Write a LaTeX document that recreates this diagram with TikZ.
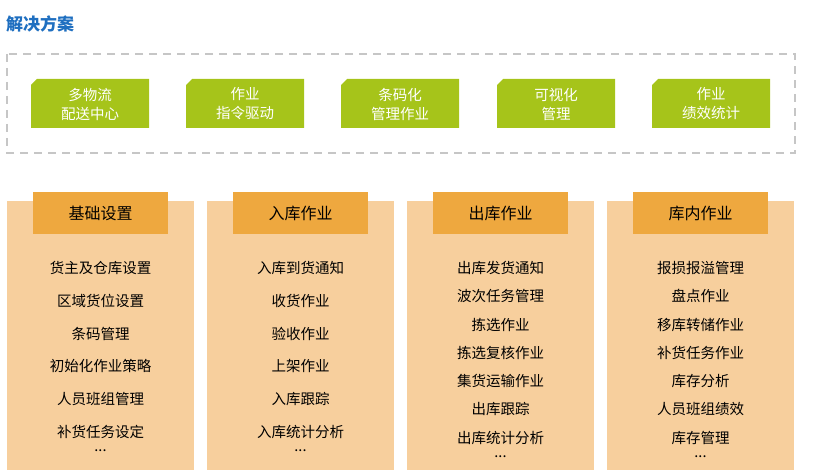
\documentclass[tikz,border=0pt]{standalone}
\usepackage{fontspec}
\newfontfamily\cjk{Noto Sans CJK SC}
\definecolor{gr}{HTML}{A6C41A}
\definecolor{hd}{HTML}{EEA83F}
\definecolor{pn}{HTML}{F7CF9D}
\definecolor{tb}{HTML}{1F6FC0}
\begin{document}
\begin{tikzpicture}[x=1pt,y=-1pt,
  item/.style={font=\cjk\fontsize{14.5}{16}\selectfont,text=black,inner sep=0},
  gtext/.style={font=\cjk\fontsize{14.5}{19}\selectfont,text=white,align=center,inner sep=0},
  htext/.style={font=\cjk\fontsize{16}{18}\selectfont,text=black,inner sep=0}]
\useasboundingbox (0,0) rectangle (828,476);
\node[font=\cjk\bfseries\fontsize{17}{20}\selectfont,text=tb,anchor=west,inner sep=0] (title) at (6,24) {解决方案};
\draw[gray!45,line width=1.6pt,dash pattern=on 8pt off 6pt] (7,54) rectangle (795,153);
\foreach \x/\t [count=\i] in {31/{多物流\\配送中心},186/{作业\\指令驱动},341/{条码化\\管理作业},497/{可视化\\管理},652/{作业\\绩效统计}}{
  \fill[gr] (\x+6,79) -- (\x+118,79) -- (\x+118,128) -- (\x,128) -- (\x,85) -- cycle;
  \node[gtext] (g\i) at (\x+59,104) {\t};
}
\foreach \x/\h [count=\i] in {7/基础设置,207/入库作业,407/出库作业,607/库内作业}{
  \fill[pn] (\x,201) rectangle (\x+187,470);
  \fill[hd] (\x+26,192) rectangle (\x+161,234);
  \node[htext] (h\i) at (\x+93.5,213) {\h};
}
\foreach \t [count=\j] in {货主及仓库设置,区域货位设置,条码管理,初始化作业策略,人员班组管理,补货任务设定}
  \node[item] (a\j) at (100.5,268+32.8*\j-32.8) {\t};
\node[item] (a7) at (100.5,451) {...};
\foreach \t [count=\j] in {入库到货通知,收货作业,验收作业,上架作业,入库跟踪,入库统计分析}
  \node[item] (b\j) at (300.5,268+32.8*\j-32.8) {\t};
\node[item] (b7) at (300.5,451) {...};
\foreach \t [count=\j] in {出库发货通知,波次任务管理,拣选作业,拣选复核作业,集货运输作业,出库跟踪,出库统计分析}
  \node[item] (c\j) at (500.5,268+28.3*\j-28.3) {\t};
\node[item] (c8) at (500.5,457) {...};
\foreach \t [count=\j] in {报损报溢管理,盘点作业,移库转储作业,补货任务作业,库存分析,人员班组绩效,库存管理}
  \node[item] (d\j) at (700.5,268+28.3*\j-28.3) {\t};
\node[item] (d8) at (700.5,457) {...};
\end{tikzpicture}
\end{document}
